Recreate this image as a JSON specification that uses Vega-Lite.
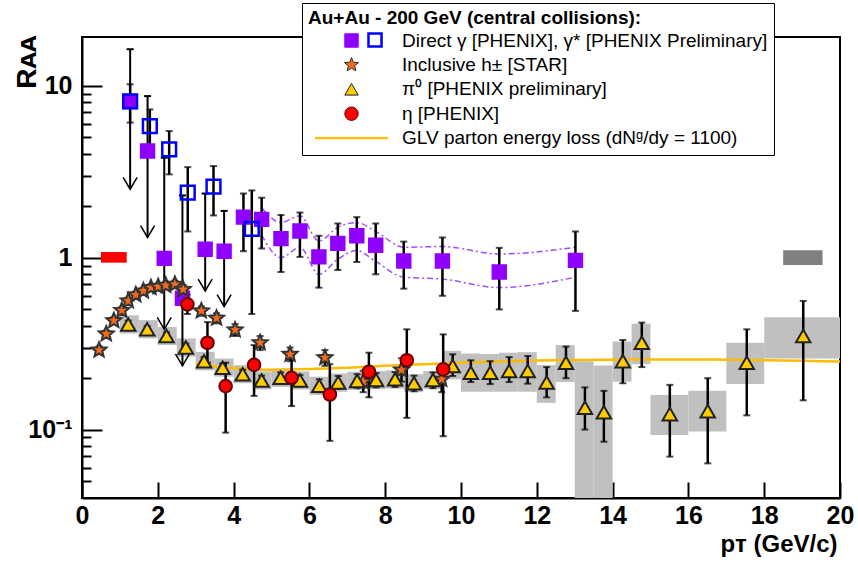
{
  "$schema": "https://vega.github.io/schema/vega-lite/v6.json",
  "width": 758,
  "height": 461,
  "autosize": {"type": "none"},
  "padding": {"left": 82, "top": 37, "right": 18, "bottom": 64},
  "config": {
    "font": "Liberation Sans",
    "view": {"stroke": "black", "strokeWidth": 2},
    "axis": {
      "grid": false,
      "domainColor": "black",
      "domainWidth": 2,
      "tickColor": "black",
      "tickWidth": 2,
      "labelColor": "black",
      "labelFont": "Liberation Sans",
      "labelFontWeight": "bold",
      "labelFontSize": 25,
      "labelOverlap": false,
      "labelFlush": false,
      "titleColor": "black",
      "titleFont": "Liberation Sans",
      "titleFontWeight": "bold"
    }
  },
  "datasets": {
    "sys": [
      {"x1": 1.0, "x2": 1.5, "lo": 0.362, "hi": 0.462},
      {"x1": 1.5, "x2": 2.0, "lo": 0.339, "hi": 0.433},
      {"x1": 2.0, "x2": 2.5, "lo": 0.31, "hi": 0.395},
      {"x1": 2.5, "x2": 3.0, "lo": 0.265, "hi": 0.339},
      {"x1": 3.0, "x2": 3.5, "lo": 0.221, "hi": 0.283},
      {"x1": 3.5, "x2": 4.0, "lo": 0.203, "hi": 0.259},
      {"x1": 4.0, "x2": 4.5, "lo": 0.186, "hi": 0.237},
      {"x1": 4.5, "x2": 5.0, "lo": 0.171, "hi": 0.218},
      {"x1": 5.0, "x2": 5.5, "lo": 0.177, "hi": 0.226},
      {"x1": 5.5, "x2": 6.0, "lo": 0.171, "hi": 0.218},
      {"x1": 6.0, "x2": 6.5, "lo": 0.159, "hi": 0.203},
      {"x1": 6.5, "x2": 7.0, "lo": 0.166, "hi": 0.212},
      {"x1": 7.0, "x2": 7.5, "lo": 0.17, "hi": 0.217},
      {"x1": 7.5, "x2": 8.0, "lo": 0.172, "hi": 0.219},
      {"x1": 8.0, "x2": 8.5, "lo": 0.173, "hi": 0.221},
      {"x1": 8.5, "x2": 9.0, "lo": 0.165, "hi": 0.21},
      {"x1": 9.0, "x2": 9.5, "lo": 0.172, "hi": 0.219},
      {"x1": 9.5, "x2": 10.0, "lo": 0.196, "hi": 0.287},
      {"x1": 10.0, "x2": 10.5, "lo": 0.166, "hi": 0.277},
      {"x1": 10.5, "x2": 11.0, "lo": 0.166, "hi": 0.275},
      {"x1": 11.0, "x2": 11.5, "lo": 0.166, "hi": 0.28},
      {"x1": 11.5, "x2": 12.0, "lo": 0.166, "hi": 0.282},
      {"x1": 12.0, "x2": 12.5, "lo": 0.143, "hi": 0.237},
      {"x1": 12.5, "x2": 13.0, "lo": 0.189, "hi": 0.31},
      {"x1": 13.0, "x2": 13.5, "lo": 0.04, "hi": 0.25},
      {"x1": 13.5, "x2": 14.0, "lo": 0.04, "hi": 0.236},
      {"x1": 14.0, "x2": 14.5, "lo": 0.19, "hi": 0.325},
      {"x1": 14.5, "x2": 15.0, "lo": 0.24, "hi": 0.413},
      {"x1": 15.0, "x2": 16.0, "lo": 0.093, "hi": 0.159},
      {"x1": 16.0, "x2": 17.0, "lo": 0.0975, "hi": 0.168},
      {"x1": 17.0, "x2": 18.0, "lo": 0.184, "hi": 0.32},
      {"x1": 18.0, "x2": 20.0, "lo": 0.259, "hi": 0.45}
    ],
    "norm": [
      {"x1": 0.5, "x2": 1.18, "lo": 0.935, "hi": 1.078, "c": "#ff0000"},
      {"x1": 18.5, "x2": 19.54, "lo": 0.906, "hi": 1.103, "c": "#808080"}
    ],
    "band": [
      {"x": 4.74, "up": 1.95, "dn": 1.35},
      {"x": 5.25, "up": 1.6, "dn": 1.0},
      {"x": 5.75, "up": 1.75, "dn": 1.15},
      {"x": 6.25, "up": 1.25, "dn": 0.8},
      {"x": 6.75, "up": 1.5, "dn": 0.98},
      {"x": 7.25, "up": 1.6, "dn": 1.1},
      {"x": 7.75, "up": 1.42, "dn": 0.95},
      {"x": 8.49, "up": 1.15, "dn": 0.77},
      {"x": 9.51, "up": 1.16, "dn": 0.75},
      {"x": 11.01, "up": 1.05, "dn": 0.67},
      {"x": 13.02, "up": 1.15, "dn": 0.77}
    ],
    "glv": [
      {"x": 3.0, "y": 0.243}, {"x": 3.5, "y": 0.233}, {"x": 4.0, "y": 0.227},
      {"x": 4.5, "y": 0.224}, {"x": 5.0, "y": 0.223}, {"x": 6.0, "y": 0.225},
      {"x": 7.0, "y": 0.229}, {"x": 8.0, "y": 0.235}, {"x": 9.0, "y": 0.24},
      {"x": 10.0, "y": 0.245}, {"x": 11.0, "y": 0.249}, {"x": 12.0, "y": 0.252},
      {"x": 13.0, "y": 0.254}, {"x": 14.0, "y": 0.255}, {"x": 15.0, "y": 0.256},
      {"x": 16.0, "y": 0.256}, {"x": 17.0, "y": 0.255}, {"x": 18.0, "y": 0.253},
      {"x": 19.0, "y": 0.251}, {"x": 20.0, "y": 0.249}
    ],
    "errs": [
      {"x": 4.26, "lo": 1.09, "hi": 2.36}, {"x": 4.74, "lo": 1.13, "hi": 2.23},
      {"x": 5.25, "lo": 0.825, "hi": 1.77}, {"x": 5.75, "lo": 1.01, "hi": 1.83},
      {"x": 6.25, "lo": 0.669, "hi": 1.34}, {"x": 6.75, "lo": 0.847, "hi": 1.58},
      {"x": 7.25, "lo": 0.943, "hi": 1.72}, {"x": 7.75, "lo": 0.8, "hi": 1.58},
      {"x": 8.49, "lo": 0.66, "hi": 1.24}, {"x": 9.51, "lo": 0.6, "hi": 1.31},
      {"x": 11.01, "lo": 0.5, "hi": 1.14}, {"x": 13.02, "lo": 0.49, "hi": 1.42},
      {"x": 1.27, "lo": 6.1, "hi": 10.2}, {"x": 1.79, "lo": 4.45, "hi": 7.28},
      {"x": 2.3, "lo": 3.05, "hi": 5.45}, {"x": 2.79, "lo": 1.42, "hi": 3.36},
      {"x": 3.47, "lo": 1.76, "hi": 3.41}, {"x": 4.48, "lo": 0.47, "hi": 2.46},
      {"x": 0.45, "lo": 0.275, "hi": 0.305}, {"x": 0.64, "lo": 0.345, "hi": 0.377},
      {"x": 0.84, "lo": 0.41, "hi": 0.45}, {"x": 1.05, "lo": 0.47, "hi": 0.515},
      {"x": 1.22, "lo": 0.535, "hi": 0.585}, {"x": 1.42, "lo": 0.58, "hi": 0.635},
      {"x": 1.62, "lo": 0.61, "hi": 0.67}, {"x": 1.82, "lo": 0.64, "hi": 0.7},
      {"x": 2.01, "lo": 0.645, "hi": 0.71}, {"x": 2.21, "lo": 0.655, "hi": 0.725},
      {"x": 2.45, "lo": 0.665, "hi": 0.735}, {"x": 2.67, "lo": 0.615, "hi": 0.695},
      {"x": 3.15, "lo": 0.46, "hi": 0.52}, {"x": 3.55, "lo": 0.415, "hi": 0.475},
      {"x": 4.04, "lo": 0.35, "hi": 0.41}, {"x": 4.7, "lo": 0.29, "hi": 0.35},
      {"x": 5.49, "lo": 0.25, "hi": 0.3}, {"x": 6.41, "lo": 0.235, "hi": 0.29},
      {"x": 7.42, "lo": 0.165, "hi": 0.22}, {"x": 8.43, "lo": 0.19, "hi": 0.26},
      {"x": 9.49, "lo": 0.165, "hi": 0.23},
      {"x": 1.22, "lo": 0.39, "hi": 0.43}, {"x": 1.72, "lo": 0.365, "hi": 0.4},
      {"x": 2.23, "lo": 0.333, "hi": 0.368}, {"x": 2.74, "lo": 0.285, "hi": 0.316},
      {"x": 3.22, "lo": 0.237, "hi": 0.264}, {"x": 3.71, "lo": 0.217, "hi": 0.242},
      {"x": 4.24, "lo": 0.198, "hi": 0.223}, {"x": 4.74, "lo": 0.18, "hi": 0.206},
      {"x": 5.24, "lo": 0.186, "hi": 0.215}, {"x": 5.75, "lo": 0.178, "hi": 0.208},
      {"x": 6.26, "lo": 0.165, "hi": 0.196}, {"x": 6.76, "lo": 0.172, "hi": 0.205},
      {"x": 7.26, "lo": 0.175, "hi": 0.21}, {"x": 7.76, "lo": 0.176, "hi": 0.213},
      {"x": 8.26, "lo": 0.177, "hi": 0.216}, {"x": 8.76, "lo": 0.167, "hi": 0.206},
      {"x": 9.26, "lo": 0.174, "hi": 0.215}, {"x": 9.78, "lo": 0.205, "hi": 0.274},
      {"x": 10.26, "lo": 0.189, "hi": 0.253}, {"x": 10.77, "lo": 0.184, "hi": 0.25},
      {"x": 11.27, "lo": 0.189, "hi": 0.264}, {"x": 11.76, "lo": 0.185, "hi": 0.268},
      {"x": 12.26, "lo": 0.154, "hi": 0.231}, {"x": 12.77, "lo": 0.199, "hi": 0.304},
      {"x": 13.27, "lo": 0.1, "hi": 0.176}, {"x": 13.77, "lo": 0.085, "hi": 0.168},
      {"x": 14.27, "lo": 0.186, "hi": 0.332}, {"x": 14.77, "lo": 0.231, "hi": 0.419},
      {"x": 15.51, "lo": 0.0696, "hi": 0.182}, {"x": 16.51, "lo": 0.0636, "hi": 0.199},
      {"x": 17.54, "lo": 0.121, "hi": 0.383}, {"x": 19.03, "lo": 0.148, "hi": 0.56},
      {"x": 2.78, "lo": 0.47, "hi": 0.61}, {"x": 3.31, "lo": 0.245, "hi": 0.422},
      {"x": 3.79, "lo": 0.096, "hi": 0.245}, {"x": 4.54, "lo": 0.157, "hi": 0.31},
      {"x": 5.53, "lo": 0.137, "hi": 0.268}, {"x": 6.54, "lo": 0.086, "hi": 0.24},
      {"x": 7.57, "lo": 0.154, "hi": 0.28}, {"x": 8.57, "lo": 0.117, "hi": 0.383},
      {"x": 9.53, "lo": 0.0915, "hi": 0.358}
    ],
    "arrows": [
      {"x": 1.27, "hi": 16.3, "end": 2.5},
      {"x": 1.73, "hi": 8.7, "end": 1.31},
      {"x": 2.17, "hi": 3.81, "end": 0.383},
      {"x": 2.65, "hi": 2.3, "end": 0.235},
      {"x": 3.25, "hi": 2.36, "end": 0.64},
      {"x": 3.75, "hi": 1.87, "end": 0.52}
    ],
    "pts": [
      {"s": "dg", "x": 1.27, "y": 8.1}, {"s": "dg", "x": 1.73, "y": 4.17},
      {"s": "dg", "x": 2.17, "y": 0.99}, {"s": "dg", "x": 2.65, "y": 0.58},
      {"s": "dg", "x": 3.25, "y": 1.12}, {"s": "dg", "x": 3.75, "y": 1.09},
      {"s": "dg", "x": 4.26, "y": 1.72}, {"s": "dg", "x": 4.74, "y": 1.67},
      {"s": "dg", "x": 5.25, "y": 1.29}, {"s": "dg", "x": 5.75, "y": 1.43},
      {"s": "dg", "x": 6.25, "y": 1.01}, {"s": "dg", "x": 6.75, "y": 1.21},
      {"s": "dg", "x": 7.25, "y": 1.34}, {"s": "dg", "x": 7.75, "y": 1.18},
      {"s": "dg", "x": 8.49, "y": 0.955}, {"s": "dg", "x": 9.51, "y": 0.955},
      {"s": "dg", "x": 11.01, "y": 0.825}, {"s": "dg", "x": 13.02, "y": 0.964},
      {"s": "h", "x": 0.45, "y": 0.29}, {"s": "h", "x": 0.64, "y": 0.36},
      {"s": "h", "x": 0.84, "y": 0.43}, {"s": "h", "x": 1.05, "y": 0.493},
      {"s": "h", "x": 1.22, "y": 0.56}, {"s": "h", "x": 1.42, "y": 0.607},
      {"s": "h", "x": 1.62, "y": 0.64}, {"s": "h", "x": 1.82, "y": 0.669},
      {"s": "h", "x": 2.01, "y": 0.678}, {"s": "h", "x": 2.21, "y": 0.69},
      {"s": "h", "x": 2.45, "y": 0.7}, {"s": "h", "x": 2.67, "y": 0.654},
      {"s": "h", "x": 3.15, "y": 0.49}, {"s": "h", "x": 3.55, "y": 0.445},
      {"s": "h", "x": 4.04, "y": 0.38}, {"s": "h", "x": 4.7, "y": 0.32},
      {"s": "h", "x": 5.49, "y": 0.274}, {"s": "h", "x": 6.41, "y": 0.262},
      {"s": "h", "x": 7.42, "y": 0.19}, {"s": "h", "x": 8.43, "y": 0.222},
      {"s": "h", "x": 9.49, "y": 0.196},
      {"s": "pi", "x": 1.22, "y": 0.409}, {"s": "pi", "x": 1.72, "y": 0.383},
      {"s": "pi", "x": 2.23, "y": 0.35}, {"s": "pi", "x": 2.74, "y": 0.3},
      {"s": "pi", "x": 3.22, "y": 0.25}, {"s": "pi", "x": 3.71, "y": 0.229},
      {"s": "pi", "x": 4.24, "y": 0.21}, {"s": "pi", "x": 4.74, "y": 0.193},
      {"s": "pi", "x": 5.24, "y": 0.2}, {"s": "pi", "x": 5.75, "y": 0.193},
      {"s": "pi", "x": 6.26, "y": 0.18}, {"s": "pi", "x": 6.76, "y": 0.188},
      {"s": "pi", "x": 7.26, "y": 0.192}, {"s": "pi", "x": 7.76, "y": 0.194},
      {"s": "pi", "x": 8.26, "y": 0.196}, {"s": "pi", "x": 8.76, "y": 0.186},
      {"s": "pi", "x": 9.26, "y": 0.194}, {"s": "pi", "x": 9.78, "y": 0.234},
      {"s": "pi", "x": 10.26, "y": 0.214}, {"s": "pi", "x": 10.77, "y": 0.214},
      {"s": "pi", "x": 11.27, "y": 0.219}, {"s": "pi", "x": 11.76, "y": 0.219},
      {"s": "pi", "x": 12.26, "y": 0.188}, {"s": "pi", "x": 12.77, "y": 0.245},
      {"s": "pi", "x": 13.27, "y": 0.134}, {"s": "pi", "x": 13.77, "y": 0.126},
      {"s": "pi", "x": 14.27, "y": 0.25}, {"s": "pi", "x": 14.77, "y": 0.32},
      {"s": "pi", "x": 15.51, "y": 0.123}, {"s": "pi", "x": 16.51, "y": 0.128},
      {"s": "pi", "x": 17.54, "y": 0.245}, {"s": "pi", "x": 19.03, "y": 0.35},
      {"s": "eta", "x": 2.78, "y": 0.535}, {"s": "eta", "x": 3.31, "y": 0.32},
      {"s": "eta", "x": 3.79, "y": 0.179}, {"s": "eta", "x": 4.54, "y": 0.238},
      {"s": "eta", "x": 5.53, "y": 0.2}, {"s": "eta", "x": 6.54, "y": 0.16},
      {"s": "eta", "x": 7.57, "y": 0.217}, {"s": "eta", "x": 8.57, "y": 0.253},
      {"s": "eta", "x": 9.53, "y": 0.224}
    ],
    "gstar": [
      {"k": "gs", "x": 1.27, "y": 8.1}, {"k": "gs", "x": 1.79, "y": 5.82},
      {"k": "gs", "x": 2.3, "y": 4.26}, {"k": "gs", "x": 2.79, "y": 2.39},
      {"k": "gs", "x": 3.47, "y": 2.59}, {"k": "gs", "x": 4.48, "y": 1.47}
    ]
  },
  "layer": [
    {
      "data": {"name": "sys"},
      "mark": {"type": "rect", "color": "#c0c0c0"},
      "encoding": {
        "x": {
          "field": "x1", "type": "quantitative",
          "scale": {"domain": [0, 20], "nice": false, "zero": false},
          "axis": {
            "title": "pᴛ (GeV/c)",
            "titleFontSize": 24,
            "titleAnchor": "end",
            "titleAlign": "right",
            "titleBaseline": "alphabetic",
            "titleX": 755,
            "titleY": 53,
            "values": [0,0.5,1,1.5,2,2.5,3,3.5,4,4.5,5,5.5,6,6.5,7,7.5,8,8.5,9,9.5,10,10.5,11,11.5,12,12.5,13,13.5,14,14.5,15,15.5,16,16.5,17,17.5,18,18.5,19,19.5,20],
            "labelExpr": "datum.value % 2 === 0 ? '' + datum.value : ''",
            "tickSize": {"condition": {"test": "datum.value % 2 === 0", "value": -16}, "value": -9},
            "labelPadding": 21
          }
        },
        "x2": {"field": "x2"},
        "y": {
          "field": "lo", "type": "quantitative",
          "scale": {"type": "log", "domain": [0.04, 19.2], "nice": false, "zero": false},
          "axis": {
            "title": "Rᴀᴀ",
            "titleFontSize": 28,
            "titleAngle": -90,
            "titleAlign": "right",
            "titleBaseline": "middle",
            "titleX": -55,
            "titleY": -2,
            "values": [0.05,0.06,0.07,0.08,0.09,0.1,0.2,0.3,0.4,0.5,0.6,0.7,0.8,0.9,1,2,3,4,5,6,7,8,9,10],
            "labelExpr": "datum.value === 10 ? '10' : datum.value === 1 ? '1' : datum.value === 0.1 ? '10⁻¹' : ''",
            "tickSize": {"condition": {"test": "datum.value === 0.1 || datum.value === 1 || datum.value === 10", "value": -20}, "value": -9},
            "labelPadding": 30
          }
        },
        "y2": {"field": "hi"}
      }
    },
    {
      "data": {"name": "norm"},
      "mark": {"type": "rect"},
      "encoding": {
        "x": {"field": "x1", "type": "quantitative"},
        "x2": {"field": "x2"},
        "y": {"field": "lo", "type": "quantitative"},
        "y2": {"field": "hi"},
        "color": {"field": "c", "type": "nominal", "scale": null}
      }
    },
    {
      "mark": {"type": "rule", "color": "black", "strokeWidth": 2, "strokeDash": [7, 5]},
      "encoding": {"y": {"datum": 1, "type": "quantitative"}}
    },
    {
      "data": {"name": "band"},
      "mark": {"type": "line", "color": "#a04cff", "strokeWidth": 1.5, "strokeDash": [6, 3, 2, 3], "interpolate": "monotone"},
      "encoding": {
        "x": {"field": "x", "type": "quantitative"},
        "y": {"field": "up", "type": "quantitative"}
      }
    },
    {
      "data": {"name": "band"},
      "mark": {"type": "line", "color": "#a04cff", "strokeWidth": 1.5, "strokeDash": [6, 3, 2, 3], "interpolate": "monotone"},
      "encoding": {
        "x": {"field": "x", "type": "quantitative"},
        "y": {"field": "dn", "type": "quantitative"}
      }
    },
    {
      "data": {"name": "glv"},
      "mark": {"type": "line", "color": "#ffbb00", "strokeWidth": 2.5, "interpolate": "monotone"},
      "encoding": {
        "x": {"field": "x", "type": "quantitative"},
        "y": {"field": "y", "type": "quantitative"}
      }
    },
    {
      "data": {"name": "errs"},
      "mark": {"type": "errorbar", "color": "black", "thickness": 2.5, "ticks": {"size": 7, "thickness": 2, "color": "black"}},
      "encoding": {
        "x": {"field": "x", "type": "quantitative", "title": "pᴛ (GeV/c)"},
        "y": {"field": "lo", "type": "quantitative", "title": "Rᴀᴀ"},
        "y2": {"field": "hi"}
      }
    },
    {
      "data": {"name": "arrows"},
      "mark": {"type": "rule", "color": "black", "strokeWidth": 2},
      "encoding": {
        "x": {"field": "x", "type": "quantitative"},
        "y": {"field": "end", "type": "quantitative"},
        "y2": {"field": "hi"}
      }
    },
    {
      "data": {"name": "arrows"},
      "mark": {"type": "tick", "orient": "horizontal", "color": "black", "size": 7, "thickness": 2, "opacity": 1},
      "encoding": {
        "x": {"field": "x", "type": "quantitative"},
        "y": {"field": "hi", "type": "quantitative"}
      }
    },
    {
      "data": {"name": "arrows"},
      "mark": {"type": "point", "shape": "M-1,-1.7L0,0L1,-1.7", "filled": false, "stroke": "black", "strokeWidth": 1.5, "size": 196, "opacity": 1},
      "encoding": {
        "x": {"field": "x", "type": "quantitative"},
        "y": {"field": "end", "type": "quantitative"}
      }
    },
    {
      "data": {"name": "pts"},
      "mark": {"type": "point", "filled": true, "opacity": 1},
      "encoding": {
        "x": {"field": "x", "type": "quantitative"},
        "y": {"field": "y", "type": "quantitative"},
        "shape": {
          "field": "s", "type": "nominal",
          "scale": {
            "domain": ["dg", "h", "pi", "eta", "glv"],
            "range": ["square", "M0,-1.1L0.29,-0.4L1.05,-0.34L0.47,0.15L0.65,0.89L0,0.49L-0.65,0.89L-0.47,0.15L-1.05,-0.34L-0.29,-0.4Z", "triangle-up", "circle", "M-5.4,-0.1H5.4V0.1H-5.4Z"]
          },
          "legend": {
            "values": ["dg", "h", "pi", "eta", "glv"],
            "orient": "none",
            "direction": "vertical",
            "legendX": 220,
            "legendY": -34,
            "zindex": 1,
            "title": "Au+Au - 200 GeV (central collisions):",
            "titleFont": "Liberation Sans",
            "titleFontSize": 19,
            "titleFontWeight": "bold",
            "titleColor": "black",
            "titleLimit": 600,
            "titlePadding": 3,
            "labelFont": "Liberation Sans",
            "labelFontSize": 19,
            "labelColor": "black",
            "labelLimit": 600,
            "labelOffset": 41,
            "symbolOffset": 34,
            "symbolSize": 180,
            "symbolStrokeWidth": 1,
            "symbolOpacity": 1,
            "rowPadding": 4.4,
            "padding": 6,
            "fillColor": "white",
            "strokeColor": "black",
            "labelExpr": "datum.label === 'dg' ? 'Direct γ [PHENIX], γ* [PHENIX Preliminary]' : datum.label === 'h' ? 'Inclusive h± [STAR]' : datum.label === 'pi' ? 'π⁰ [PHENIX preliminary]' : datum.label === 'eta' ? 'η [PHENIX]' : 'GLV parton energy loss (dNᵍ/dy = 1100)'",
            "encode": {"legend": {"update": {"strokeWidth": {"value": 2}}}}
          }
        },
        "fill": {
          "field": "s", "type": "nominal",
          "scale": {"domain": ["dg", "h", "pi", "eta", "glv"], "range": ["#8f00ff", "#f26b1d", "#ffcc00", "#ff0000", "#ffbb00"]}
        },
        "stroke": {
          "field": "s", "type": "nominal",
          "scale": {"domain": ["dg", "h", "pi", "eta", "glv"], "range": ["#8f00ff", "#333333", "#222222", "#660000", "#ffbb00"]}
        },
        "size": {
          "condition": [
            {"test": "datum.s === 'dg'", "value": 180},
            {"test": "datum.s === 'h'", "value": 200},
            {"test": "datum.s === 'pi'", "value": 210}
          ],
          "value": 160
        }
      }
    },
    {
      "data": {"name": "gstar"},
      "mark": {"type": "point", "shape": "square", "filled": false, "color": "#0000ff", "strokeWidth": 2.5, "size": 190, "opacity": 1},
      "encoding": {
        "x": {"field": "x", "type": "quantitative"},
        "y": {"field": "y", "type": "quantitative"},
        "opacity": {
          "field": "k", "type": "nominal",
          "scale": {"domain": ["gs"], "range": [1]},
          "legend": {
            "orient": "none",
            "legendX": 285,
            "legendY": -5,
            "zindex": 2,
            "title": null,
            "padding": 0,
            "labelExpr": "''",
            "labelFontSize": 1,
            "symbolType": "square",
            "symbolSize": 170,
            "symbolStrokeWidth": 2.5,
            "symbolStrokeColor": "#0000ff",
            "symbolFillColor": "transparent",
            "symbolOpacity": 1
          }
        }
      }
    }
  ]
}
